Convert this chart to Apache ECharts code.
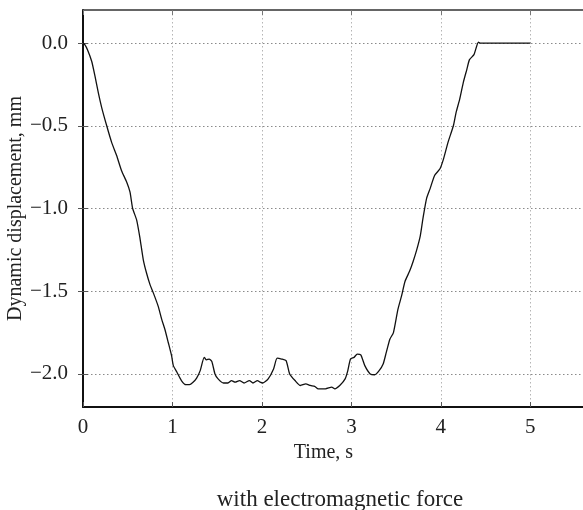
<!DOCTYPE html>
<html>
<head>
<meta charset="utf-8">
<script src="https://cdn.jsdelivr.net/npm/echarts@6/dist/echarts.min.js"></script>
<style>
  html, body { margin: 0; padding: 0; background: #fff; }
  #chart { width: 583px; height: 510px; }
</style>
</head>
<body>
<div id="chart"></div>
<script>
// Time axis samples (s)
const timeS = [
  0, 0.02, 0.05, 0.097, 0.134, 0.171, 0.209, 0.265, 0.32, 0.376,
  0.43, 0.488, 0.525, 0.555, 0.60, 0.637, 0.674, 0.71, 0.749, 0.786,
  0.84, 0.88, 0.915, 0.953, 0.99, 1.01, 1.05, 1.10, 1.15, 1.19,
  1.23, 1.27, 1.31, 1.355, 1.38, 1.41, 1.44, 1.475, 1.51, 1.57,
  1.62, 1.66, 1.70, 1.75, 1.80, 1.86, 1.90, 1.95, 1.98, 2.01,
  2.07, 2.13, 2.17, 2.22, 2.27, 2.31, 2.37, 2.43, 2.49, 2.54,
  2.59, 2.63, 2.71, 2.78, 2.815, 2.87, 2.93, 2.96, 2.99, 3.03,
  3.065, 3.105, 3.15, 3.21, 3.26, 3.31, 3.355, 3.39, 3.43, 3.47,
  3.52, 3.56, 3.60, 3.65, 3.69, 3.73, 3.77, 3.80, 3.84, 3.88,
  3.93, 3.99, 4.03, 4.08, 4.14, 4.17, 4.21, 4.25, 4.29, 4.32,
  4.37, 4.42, 4.44, 5.0
];

// Dynamic displacement (mm) at each time sample
const displacementMm = [
  0, -0.01, -0.04, -0.11, -0.20, -0.30, -0.39, -0.50, -0.60, -0.68,
  -0.77, -0.84, -0.90, -1.00, -1.07, -1.18, -1.31, -1.39, -1.46, -1.51,
  -1.59, -1.67, -1.73, -1.81, -1.89, -1.95, -1.99, -2.04, -2.065, -2.065,
  -2.05, -2.025, -1.98, -1.90, -1.915, -1.91, -1.925, -2.0, -2.03, -2.055,
  -2.055, -2.04, -2.05, -2.04, -2.055, -2.04, -2.055, -2.04, -2.05, -2.055,
  -2.03, -1.97, -1.905, -1.91, -1.92, -2.0, -2.04, -2.07, -2.06, -2.07,
  -2.075, -2.09, -2.09, -2.08, -2.09, -2.07, -2.03, -1.98, -1.91, -1.90,
  -1.88, -1.885, -1.95, -2.00, -2.005, -1.98, -1.94, -1.87, -1.79, -1.75,
  -1.61, -1.53, -1.44, -1.38, -1.32, -1.25, -1.165, -1.06, -0.94, -0.88,
  -0.80, -0.76, -0.70, -0.60, -0.50, -0.42, -0.34, -0.24, -0.16, -0.10,
  -0.07, 0.005, 0.0, 0.0
];

// Labelled ticks
const xTicks = [0, 1, 2, 3, 4, 5];
const yTicks = [0, -0.5, -1.0, -1.5, -2.0];

const FONT = 'Liberation Serif';
const TEXT = '#222';

const points = timeS.map((t, i) => [t, displacementMm[i]]);

// Minus sign as a typographic minus, one decimal place
const fmtY = v => (v < 0 ? '\u2212' : '') + Math.abs(v).toFixed(1);

const dotted = (color) => ({ show: true, lineStyle: { color: color, type: [1.5, 2.5], width: 1 } });

const chart = echarts.init(document.getElementById('chart'), null, { renderer: 'canvas' });

chart.setOption({
  backgroundColor: '#fff',
  animation: false,
  title: {
    text: 'with electromagnetic force',
    left: 335,
    top: 483,
    textAlign: 'center',
    textStyle: { fontFamily: FONT, fontSize: 23, fontWeight: 'normal', color: TEXT }
  },
  grid: { left: 83, top: 10, width: 501, height: 397, outerBoundsMode: 'none', containLabel: false },
  xAxis: [{
    type: 'value',
    position: 'bottom',
    min: 0, max: 5.6,
    name: 'Time, s',
    nameLocation: 'middle',
    nameGap: 36,
    nameMoveOverlap: false,
    nameTextStyle: { fontFamily: FONT, fontSize: 20, color: TEXT, padding: [0, 20, 0, 0] },
    axisLine: { show: true, onZero: false, lineStyle: { color: '#111', width: 2 } },
    axisTick: { show: true, inside: true, length: 5, customValues: xTicks, lineStyle: { color: '#555', width: 1 } },
    axisLabel: { show: true, customValues: xTicks, margin: 10, fontFamily: FONT, fontSize: 21, color: TEXT,
      formatter: v => String(v) },
    splitLine: dotted('#b5b5b5')
  }, {
    type: 'value',
    position: 'top',
    min: 0, max: 5.6,
    axisLine: { show: true, onZero: false, lineStyle: { color: '#333', width: 1.5 } },
    axisTick: { show: true, inside: true, length: 5, customValues: xTicks, lineStyle: { color: '#777', width: 1 } },
    axisLabel: { show: false },
    splitLine: { show: false }
  }],
  yAxis: [{
    type: 'value',
    position: 'left',
    min: -2.2, max: 0.2,
    name: 'Dynamic displacement, mm',
    nameLocation: 'middle',
    nameGap: 57,
    nameMoveOverlap: false,
    nameTextStyle: { fontFamily: FONT, fontSize: 20, color: TEXT },
    axisLine: { show: true, onZero: false, lineStyle: { color: '#111', width: 2 } },
    axisTick: { show: true, inside: true, length: 5, customValues: yTicks, lineStyle: { color: '#555', width: 1 } },
    axisLabel: { show: true, customValues: yTicks, margin: 15, fontFamily: FONT, fontSize: 21, color: TEXT,
      formatter: fmtY },
    splitLine: dotted('#8a8a8a')
  }, {
    type: 'value',
    position: 'right',
    min: -2.2, max: 0.2,
    axisLine: { show: false },
    axisTick: { show: true, inside: true, length: 5, customValues: yTicks, lineStyle: { color: '#555', width: 1 } },
    axisLabel: { show: false },
    splitLine: { show: false }
  }],
  series: [{
    type: 'line',
    xAxisIndex: 0,
    yAxisIndex: 0,
    data: points,
    showSymbol: false,
    smooth: 0.2,
    lineStyle: { color: '#111', width: 1.3 }
  }]
});
</script>
</body>
</html>
